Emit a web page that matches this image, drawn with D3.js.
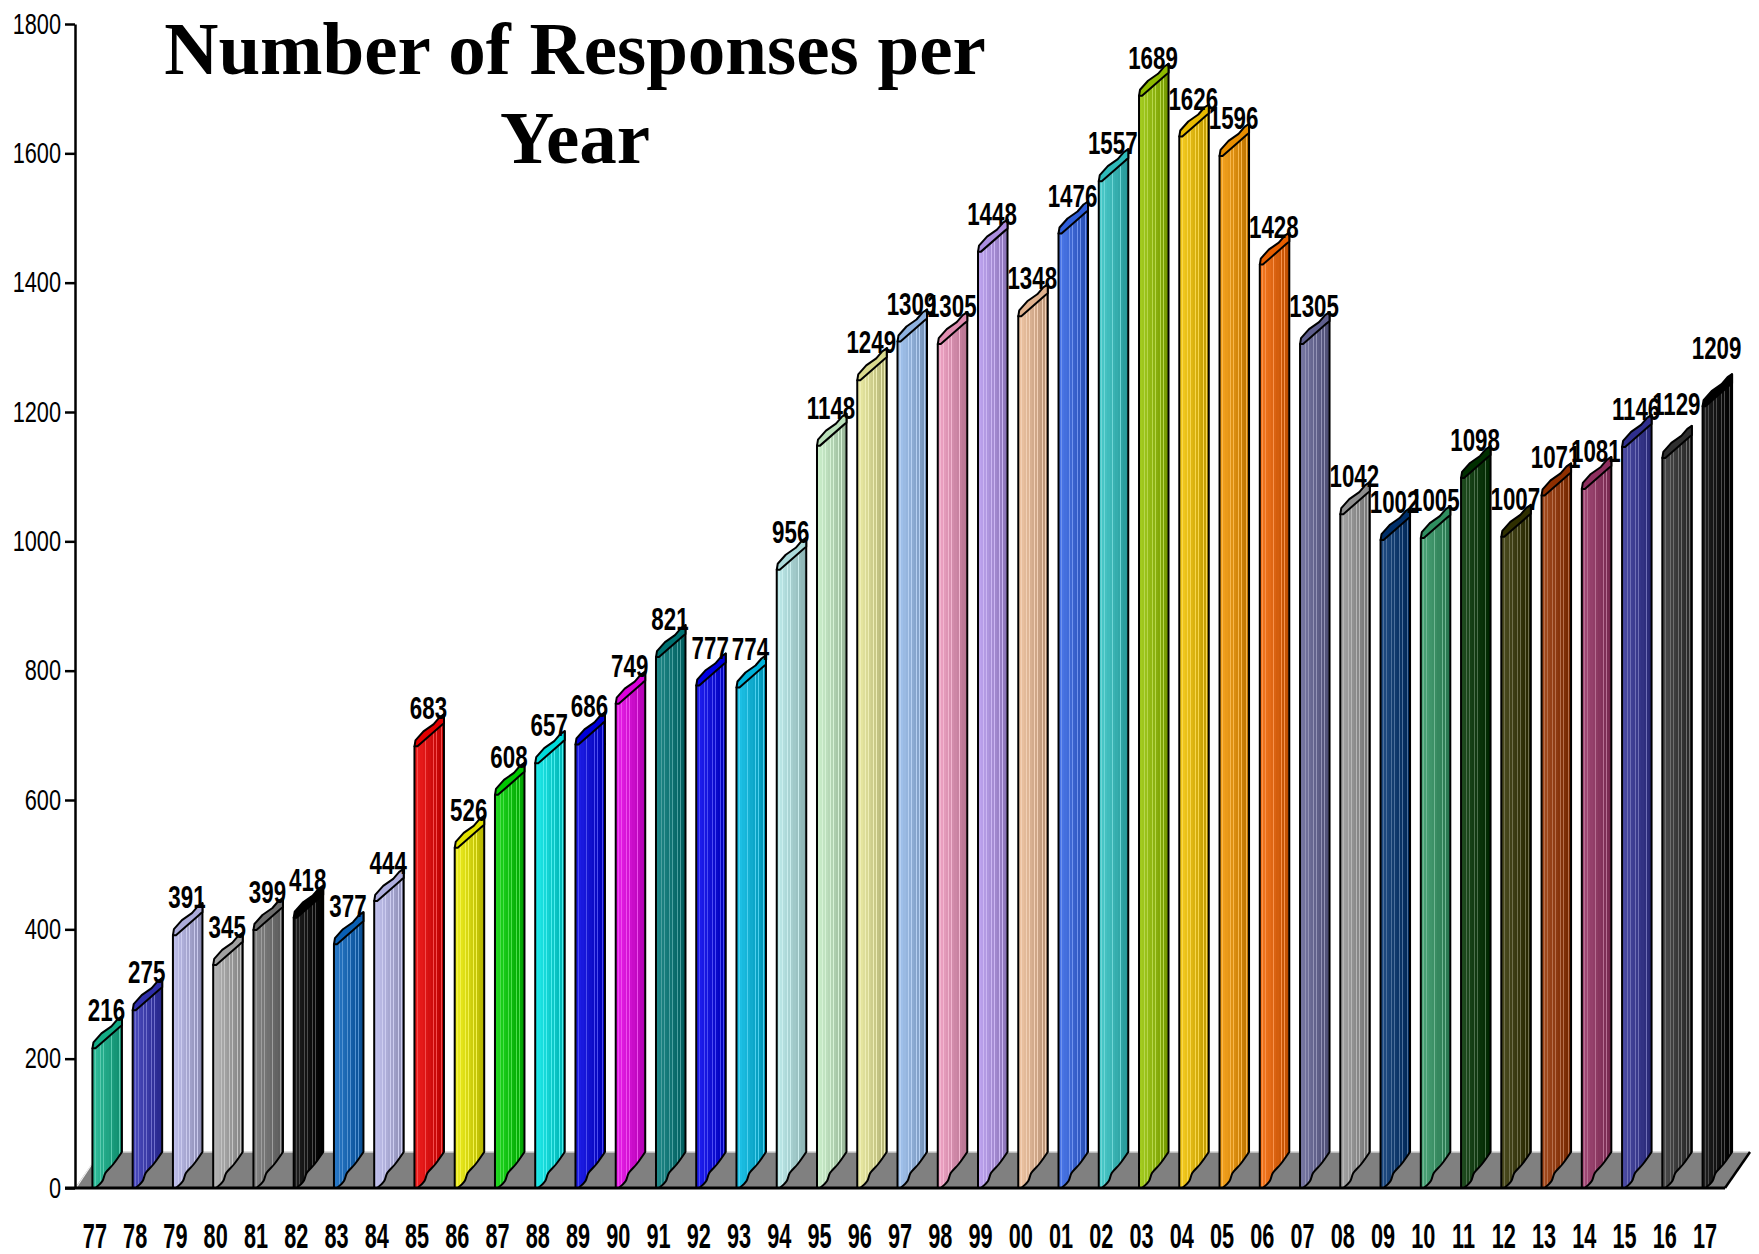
<!DOCTYPE html>
<html>
<head>
<meta charset="utf-8">
<script src="https://cdn.jsdelivr.net/npm/d3@7"></script>
<style>
  body { margin: 0; background: #fff; }
  svg { display: block; }
</style>
</head>
<body>
<div id="chart"></div>
<script>
// data
var years = ["77","78","79","80","81","82","83","84","85","86","87","88","89","90",
  "91","92","93","94","95","96","97","98","99","00","01","02","03","04","05","06",
  "07","08","09","10","11","12","13","14","15","16","17"];

var responses = [216, 275, 391, 345, 399, 418, 377, 444, 683, 526, 608, 657, 686, 749,
  821, 777, 774, 956, 1148, 1249, 1309, 1305, 1448, 1348, 1476, 1557, 1689, 1626, 1596, 1428,
  1305, 1042, 1002, 1005, 1098, 1007, 1071, 1081, 1146, 1129, 1209];

var barColors = ["#14b48c","#3232b4","#b4b4e6","#aaaaaa","#747474","#000000","#0a64be","#b8b8ea",
  "#ee0000","#ecec00","#00d200","#00e6e6","#0000e6","#e600e6","#007878","#0000ee","#00bce6",
  "#b4e6e6","#c4ecc4","#e6e696","#96bcec","#ec96bc","#b496ec","#ecbc96","#3264e6","#32c4c4",
  "#96c400","#f4c400","#f49600","#f46400","#646496","#969696","#003270","#329664","#003200",
  "#323200","#963200","#963264","#323296","#323232","#000000"];

var yTicks = [0, 200, 400, 600, 800, 1000, 1200, 1400, 1600, 1800];

var titleLines = ["Number of Responses per", "Year"];

var svgWidth = 1759;
var svgHeight = 1254;

var svg = d3.select("#chart").append("svg")
    .attr("width", svgWidth)
    .attr("height", svgHeight);

var defs = svg.append("defs");

// scales
var x = d3.scaleBand()
    .domain(years)
    .range([75, 1725])
    .paddingInner(0.876)
    .paddingOuter(0.433);

var y = d3.scaleLinear()
    .domain([0, 1800])
    .range([1188, 24]);

var rows = years.map(function (yr, i) {
    return { year: yr, value: responses[i], color: barColors[i], i: i };
});

// 3d depth of the plot
var depthX = 25, depthY = -36;
var barW = 29.5;      // front + depth of a bar as drawn
var capRise = 32;

// floor
var y0 = y(0);
svg.append("path")
    .attr("d", `M75,${y0}L1725,${y0}L${1725 + depthX},${y0 + depthY}L${75 + depthX},${y0 + depthY}Z`)
    .attr("fill", "#808080");
svg.append("line")
    .attr("x1", 75 + depthX).attr("y1", y0 + depthY)
    .attr("x2", 1725 + depthX).attr("y2", y0 + depthY)
    .attr("stroke", "#d0d0d0").attr("stroke-width", 1.5);
svg.append("line")
    .attr("x1", 76).attr("y1", y0)
    .attr("x2", 75 + depthX).attr("y2", y0 + depthY)
    .attr("stroke", "#f4f4f4").attr("stroke-width", 1.2);
svg.append("line")
    .attr("x1", 1725).attr("y1", y0)
    .attr("x2", 1725 + depthX).attr("y2", y0 + depthY)
    .attr("stroke", "#000").attr("stroke-width", 2.5);

// striped gradients, one per bar
rows.forEach(function (d) {
    var base = d3.color(d.color);
    var light = d3.interpolateRgb(base, "#ffffff")(0.12);
    var dark = base.darker(0.7);
    var lineCol = d3.interpolateRgb(base, "#ffffff")(0.3);
    var grad = defs.append("linearGradient")
        .attr("id", "grad" + d.i)
        .attr("x1", "0%").attr("x2", "100%")
        .attr("y1", "0%").attr("y2", "0%");
    var n = 11;
    for (var k = 0; k < n; k++) {
        var c = d3.interpolateRgb(light, dark)(k / (n - 1));
        var a = k / n, b = (k + 1) / n;
        grad.append("stop").attr("offset", a).attr("stop-color", k > 0 ? lineCol : c);
        grad.append("stop").attr("offset", a + 0.02).attr("stop-color", k > 0 ? lineCol : c);
        grad.append("stop").attr("offset", a + 0.02).attr("stop-color", c);
        grad.append("stop").attr("offset", b).attr("stop-color", c);
    }
});

// wavy bottom edge where the bar meets the floor
var wave = [[3, 0], [10, -7], [13, -15], [21, -24], [barW, -36]];
var waveLine = d3.line().curve(d3.curveCatmullRom);

var bars = svg.append("g").attr("class", "bars")
    .selectAll("g")
    .data(rows)
    .enter()
    .append("g");

bars.append("path")
    .attr("d", function (d) {
        var x0 = x(d.year), yT = y(d.value);
        var w = waveLine(wave.map(function (p) { return [x0 + p[0], y0 + p[1]]; }));
        return `M${x0},${yT}L${x0},${y0}` + "L" + w.slice(1) +
            `L${x0 + barW},${yT - capRise}Z`;
    })
    .attr("fill", function (d) { return "url(#grad" + d.i + ")"; })
    .attr("stroke", "#000")
    .attr("stroke-width", 2)
    .attr("stroke-linejoin", "round");

// cap on top of each bar
var capPts = [[0, 0], [1, -6], [9, -15], [19, -22], [25, -29], [barW, -capRise],
    [barW, -23], [27, -21], [3, 0]];
bars.append("path")
    .attr("d", function (d) {
        var x0 = x(d.year), yT = y(d.value);
        return "M" + capPts.map(function (p) { return (x0 + p[0]) + "," + (yT + p[1]); }).join("L") + "Z";
    })
    .attr("fill", function (d) { return d3.color(d.color).darker(0.15); })
    .attr("stroke", "#000")
    .attr("stroke-width", 2)
    .attr("stroke-linejoin", "round");

// y axis
var yAxis = svg.append("g")
    .attr("transform", "translate(75,0)")
    .call(d3.axisLeft(y).tickValues(yTicks).tickFormat(d3.format("d"))
        .tickSize(10).tickSizeOuter(0).tickPadding(4));
yAxis.select(".domain").attr("stroke-width", 2.5);
yAxis.selectAll(".tick line").attr("stroke-width", 2.5);
yAxis.selectAll("text")
    .attr("x", -14 / 0.75)
    .attr("transform", "scale(0.75,1)")
    .attr("font-family", "'Liberation Sans', Arial, sans-serif")
    .attr("font-size", 29)
    .attr("fill", "#000");

// zero line along the floor front
svg.append("line")
    .attr("x1", 65).attr("y1", y0)
    .attr("x2", 1725).attr("y2", y0)
    .attr("stroke", "#000").attr("stroke-width", 3);

// x axis
var xAxis = svg.append("g")
    .attr("transform", `translate(0,${y0})`)
    .call(d3.axisBottom(x).tickSize(0).tickPadding(35));
xAxis.select(".domain").remove();
xAxis.selectAll("text")
    .attr("transform", "scale(0.62,1)")
    .attr("font-family", "'Liberation Sans', Arial, sans-serif")
    .attr("font-weight", "bold")
    .attr("font-size", 35)
    .attr("fill", "#000");

// value labels
var labelLift = { "16": 16, "17": 20 };
svg.append("g").attr("class", "labels")
    .selectAll("text")
    .data(rows)
    .enter()
    .append("text")
    .attr("transform", function (d) {
        var lift = labelLift[d.year] || 0;
        return `translate(${x(d.year) + 14},${y(d.value) - 27 - lift}) scale(0.72,1)`;
    })
    .attr("text-anchor", "middle")
    .attr("font-family", "'Liberation Sans', Arial, sans-serif")
    .attr("font-weight", "bold")
    .attr("font-size", 31)
    .attr("fill", "#000")
    .text(function (d) { return d.value; });

// title
var title = svg.append("g").attr("class", "title");
title.selectAll("text")
    .data(titleLines)
    .enter()
    .append("text")
    .attr("x", 575)
    .attr("y", function (d, i) { return 74 + i * 89; })
    .attr("text-anchor", "middle")
    .attr("font-family", "'Liberation Serif', 'Times New Roman', serif")
    .attr("font-weight", "bold")
    .attr("font-size", 75)
    .attr("fill", "#000")
    .text(function (d) { return d; });
</script>
</body>
</html>
